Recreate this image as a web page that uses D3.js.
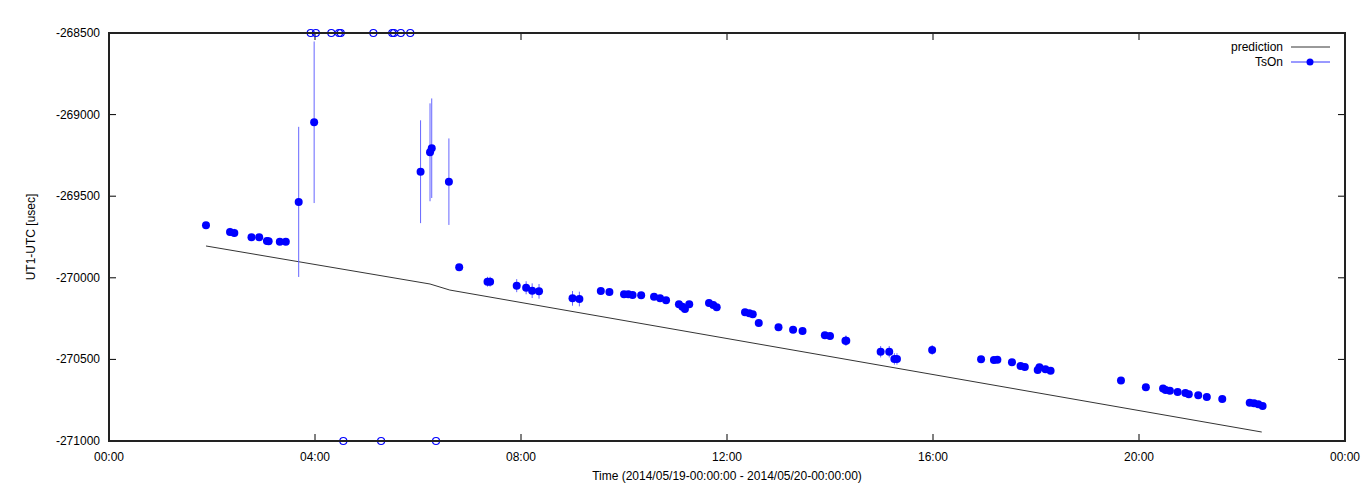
<!DOCTYPE html>
<html>
<head>
<meta charset="utf-8">
<script src="https://cdn.jsdelivr.net/npm/d3@7"></script>
<style>
body { margin: 0; background: #fff; }
text { font-family: "Liberation Sans", Arial, sans-serif; font-size: 12px; }
</style>
</head>
<body>
<svg id="chart" width="1368" height="504"></svg>
<script>
// observation times (HH:MM) and UT1-UTC values [usec], with error half-widths
var times = ["1:53","2:21","2:26","2:46","2:55","3:04","3:06","3:19","3:26","3:41","3:59",
    "6:03","6:14","6:16","6:36","6:48","7:21","7:24","7:55","8:06","8:13","8:21","9:00","9:08",
    "9:33","9:43","10:00","10:05","10:10","10:20","10:35","10:42","10:49","11:04","11:08","11:11",
    "11:16","11:39","11:44","11:48","12:21","12:26","12:30","12:37","13:00","13:17","13:28","13:54",
    "14:00","14:18","14:19","14:59","15:09","15:15","15:18","15:59","16:56","17:11","17:15","17:32",
    "17:42","17:47","18:02","18:04","18:11","18:17","19:39","20:08","20:28","20:31","20:36","20:45",
    "20:54","20:58","21:09","21:19","21:37","22:09","22:14","22:19","22:24"]
var values = [-269678,-269719,-269725,-269752,-269752,-269774,-269776,-269779,-269779,-269535,-269047,
    -269350,-269231,-269206,-269411,-269936,-270024,-270024,-270048,-270061,-270079,-270083,-270126,-270130,
    -270081,-270087,-270101,-270101,-270105,-270107,-270116,-270126,-270138,-270162,-270177,-270191,
    -270162,-270154,-270167,-270181,-270211,-270217,-270224,-270277,-270303,-270318,-270326,-270352,
    -270356,-270385,-270385,-270453,-270453,-270497,-270497,-270442,-270499,-270504,-270502,-270518,
    -270540,-270546,-270565,-270548,-270561,-270569,-270630,-270671,-270679,-270687,-270692,-270700,
    -270706,-270714,-270720,-270730,-270743,-270765,-270769,-270775,-270785]
var errors = [10,25,25,15,10,10,10,15,15,460,495,
    315,300,305,265,10,30,30,40,40,45,45,45,45,
    15,10,10,10,10,10,10,10,10,20,20,15,
    10,10,10,10,10,10,10,10,10,10,10,10,
    10,30,30,35,35,35,35,30,10,10,10,10,
    10,10,15,15,10,10,10,10,10,10,10,10,
    10,10,10,10,10,10,10,10,10]
// points off the top / bottom of the y range
var timesAbove = ["3:55","4:01","4:19","4:28","4:30","5:08","5:30","5:32","5:40","5:51"]
var timesBelow = ["4:33","5:17","6:21"]
// prediction curve
var predTimes = ["1:53","6:14","6:37","22:23"]
var predValues = [-269805,-270038,-270075,-270945]
var xTicks = ["00:00","04:00","08:00","12:00","16:00","20:00","00:00"]
var yTicks = [-268500,-269000,-269500,-270000,-270500,-271000]

function hours(s) {
    var p = s.split(":")
    return +p[0] + p[1] / 60
}

var svg = d3.select("#chart")
var L = 109, R = 1345, T = 33, B = 441
var x = d3.scaleLinear().domain([0, 24]).range([L, R])
var y = d3.scaleLinear().domain([-271000, -268500]).range([B, T])

// ticks (inward, mirrored)
xTicks.forEach(function(t, i) {
    var px = x(i * 4)
    svg.append("line").attr("x1", px).attr("x2", px).attr("y1", B).attr("y2", B - 7).attr("stroke", "#000")
    svg.append("line").attr("x1", px).attr("x2", px).attr("y1", T).attr("y2", T + 7).attr("stroke", "#000")
    svg.append("text").attr("x", px).attr("y", B + 20).attr("text-anchor", "middle").text(t)
})
yTicks.forEach(function(t) {
    var py = y(t)
    svg.append("line").attr("x1", L).attr("x2", L + 7).attr("y1", py).attr("y2", py).attr("stroke", "#000")
    svg.append("line").attr("x1", R).attr("x2", R - 7).attr("y1", py).attr("y2", py).attr("stroke", "#000")
    svg.append("text").attr("x", L - 9).attr("y", py + 4).attr("text-anchor", "end").text(t)
})

// prediction
var line = d3.line().x(function(d) { return x(hours(d[0])) }).y(function(d) { return y(d[1]) })
svg.append("path").datum(d3.zip(predTimes, predValues)).attr("d", line)
    .attr("fill", "none").attr("stroke", "#000").attr("stroke-width", 0.8)

var obs = d3.zip(times, values, errors)
svg.append("g").selectAll("line").data(obs).enter().append("line")
    .attr("x1", function(d) { return x(hours(d[0])) })
    .attr("x2", function(d) { return x(hours(d[0])) })
    .attr("y1", function(d) { return y(d[1] + d[2]) })
    .attr("y2", function(d) { return y(d[1] - d[2]) })
    .attr("stroke", "#6666ff").attr("stroke-width", 1)
svg.append("g").selectAll("circle").data(obs).enter().append("circle")
    .attr("cx", function(d) { return x(hours(d[0])) })
    .attr("cy", function(d) { return y(d[1]) })
    .attr("r", 4).attr("fill", "#0000ff")

svg.append("g").selectAll("circle").data(timesAbove).enter().append("circle")
    .attr("cx", function(d) { return x(hours(d)) }).attr("cy", T)
    .attr("r", 3.5).attr("fill", "none").attr("stroke", "#0000ff").attr("stroke-width", 1.2)
svg.append("g").selectAll("circle").data(timesBelow).enter().append("circle")
    .attr("cx", function(d) { return x(hours(d)) }).attr("cy", B)
    .attr("r", 3.5).attr("fill", "none").attr("stroke", "#0000ff").attr("stroke-width", 1.2)

// frame
svg.append("rect").attr("x", L).attr("y", T).attr("width", R - L).attr("height", B - T)
    .attr("fill", "none").attr("stroke", "#222").attr("stroke-width", 2)

// legend
svg.append("text").attr("x", 1283).attr("y", 51).attr("text-anchor", "end").text("prediction")
svg.append("line").attr("x1", 1291).attr("x2", 1330).attr("y1", 47).attr("y2", 47).attr("stroke", "#000").attr("stroke-width", 0.8)
svg.append("text").attr("x", 1283).attr("y", 66).attr("text-anchor", "end").text("TsOn")
svg.append("line").attr("x1", 1291).attr("x2", 1330).attr("y1", 62).attr("y2", 62).attr("stroke", "#0000ff").attr("stroke-width", 0.8)
svg.append("circle").attr("cx", 1310).attr("cy", 62).attr("r", 3.5).attr("fill", "#0000ff")

// axis labels
svg.append("text").attr("x", (L + R) / 2).attr("y", 480).attr("text-anchor", "middle")
    .text("Time (2014/05/19-00:00:00 - 2014/05/20-00:00:00)")
svg.append("text").attr("transform", "translate(35," + (T + B) / 2 + ") rotate(-90)")
    .attr("text-anchor", "middle").text("UT1-UTC [usec]")
</script>
</body>
</html>
